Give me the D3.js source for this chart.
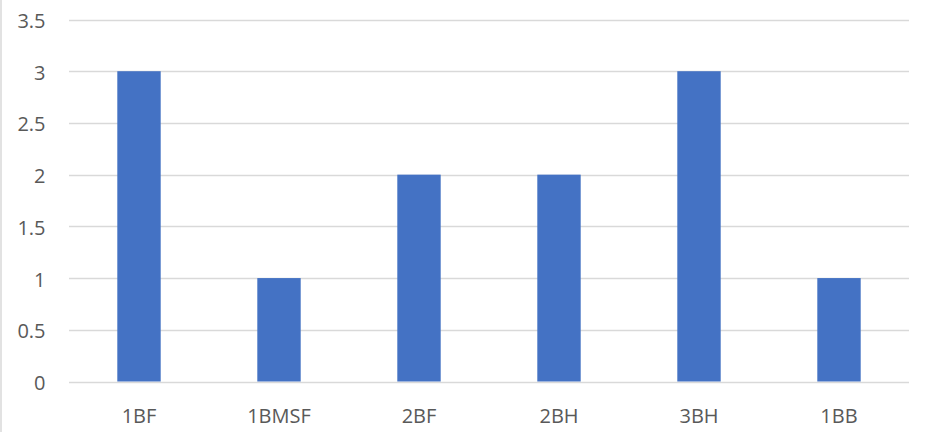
<!DOCTYPE html>
<html>
<head>
<meta charset="utf-8">
<script src="https://cdn.jsdelivr.net/npm/d3@7"></script>
<style>
  html, body { margin: 0; padding: 0; background: #fff; }
  svg { display: block; }
  text { font-family: "Open Sans", "Liberation Sans", sans-serif; fill: #595959; }
</style>
</head>
<body>
<svg id="chart" width="925" height="432"></svg>
<script>
// Category names and their counts
const categories = ["1BF", "1BMSF", "2BF", "2BH", "3BH", "1BB"];
const values = [3, 1, 2, 2, 3, 1];
const yTicks = [0, 0.5, 1, 1.5, 2, 2.5, 3, 3.5];

const svg = d3.select("#chart");
const W = 925, H = 432;
const margin = { left: 69, right: 16, top: 19.5, bottom: 50.5 };
const fontSize = 20;

const x = d3.scaleBand()
  .domain(categories)
  .range([margin.left, W - margin.right])
  .paddingInner(0.69)
  .paddingOuter(0.345);

const y = d3.scaleLinear()
  .domain([0, 3.5])
  .range([H - margin.bottom, margin.top]);

// outer frame edge on the left
svg.append("line")
  .attr("x1", 1).attr("x2", 1)
  .attr("y1", 0).attr("y2", H)
  .attr("stroke", "#d9d9d9").attr("stroke-width", 1.5);

// horizontal gridlines
svg.append("g")
  .selectAll("line")
  .data(yTicks)
  .join("line")
  .attr("x1", margin.left).attr("x2", W - margin.right)
  .attr("y1", d => Math.round(y(d)) + 0.5)
  .attr("y2", d => Math.round(y(d)) + 0.5)
  .attr("stroke", "#d9d9d9").attr("stroke-width", 1.3);

// y-axis labels
const yAxis = d3.axisLeft(y).tickValues(yTicks).tickSize(0).tickPadding(0)
  .tickFormat(d => String(d));
svg.append("g")
  .attr("transform", `translate(45.5,0)`)
  .call(yAxis)
  .call(g => g.select(".domain").remove())
  .call(g => g.selectAll("text")
    .attr("font-size", fontSize)
    .attr("font-family", null)
    .attr("fill", "#595959")
    .attr("dy", "0.4em"));

// bars
svg.append("g")
  .selectAll("rect")
  .data(categories.map((c, i) => ({ c, v: values[i] })))
  .join("rect")
  .attr("x", d => x(d.c))
  .attr("width", x.bandwidth())
  .attr("y", d => y(d.v))
  .attr("height", d => y(0) - y(d.v))
  .attr("fill", "#4472c4");

// category labels
const xAxis = d3.axisBottom(x).tickSize(0).tickPadding(0);
svg.append("g")
  .attr("transform", `translate(0,${H - margin.bottom})`)
  .call(xAxis)
  .call(g => g.select(".domain").remove())
  .call(g => g.selectAll("text")
    .attr("font-size", fontSize)
    .attr("font-family", null)
    .attr("fill", "#595959")
    .attr("y", 41)
    .attr("dy", 0));
</script>
</body>
</html>
